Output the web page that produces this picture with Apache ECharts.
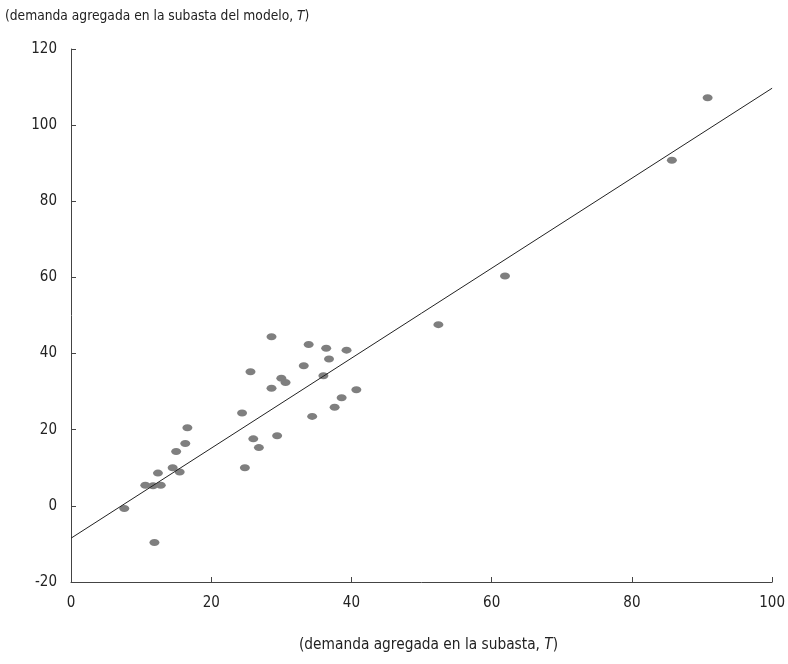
<!DOCTYPE html>
<html>
<head>
<meta charset="utf-8">
<script src="https://cdn.jsdelivr.net/npm/echarts@6/dist/echarts.min.js"></script>
<style>
html,body{margin:0;padding:0;background:#fff;}
#chart{width:788px;height:664px;}
</style>
</head>
<body>
<div id="chart"></div>
<script>
// Observed aggregate demand (x) vs model aggregate demand (y)
const xValues = [28.6, 33.9, 36.4, 39.3, 36.8, 25.6, 33.2, 30.0, 30.6, 28.6, 36.0, 40.7, 38.6, 37.6, 34.4, 24.4, 16.6, 16.3, 15.0, 26.0, 29.4, 26.8, 14.5, 15.5, 12.4, 24.8, 10.6, 11.7, 12.8, 7.6, 11.9, 52.4, 61.9, 85.7, 90.8];
const yValues = [44.4, 42.4, 41.4, 40.9, 38.6, 35.2, 36.8, 33.5, 32.4, 30.9, 34.2, 30.5, 28.4, 25.9, 23.5, 24.4, 20.5, 16.4, 14.3, 17.6, 18.4, 15.3, 10.0, 8.9, 8.6, 10.0, 5.4, 5.3, 5.4, -0.7, -9.6, 47.6, 60.4, 90.8, 107.2];
// Fitted line endpoints
const fitX = [0, 100];
const fitY = [-8.5, 109.7];
const xTicks = [0, 20, 40, 60, 80, 100];
const yTicks = [-20, 0, 20, 40, 60, 80, 100, 120];
const yTitle = "(demanda agregada en la subasta del modelo, ";
const xTitle = "(demanda agregada en la subasta, ";

const FONT = '"Liberation Sans Narrow", "DejaVu Sans Condensed", "Roboto", sans-serif';

const chart = echarts.init(document.getElementById('chart'), null, {renderer: 'canvas'});
const points = xValues.map((x, i) => [x, yValues[i]]);
const fitLine = fitX.map((x, i) => [x, fitY[i]]);

chart.setOption({
  animation: false,
  backgroundColor: '#ffffff',
  grid: {left: 71, right: 14, top: 49, bottom: 82, containLabel: false},
  xAxis: {
    type: 'value', min: xTicks[0], max: xTicks[xTicks.length - 1], interval: 20,
    axisLine: {show: true, onZero: false, lineStyle: {color: '#444', width: 1}},
    axisTick: {show: true, inside: true, length: 5, lineStyle: {color: '#444'}},
    axisLabel: {color: '#222', fontFamily: FONT, fontSize: 15, margin: 14,
      formatter: v => xTicks.includes(v) ? String(v) : ''},
    splitLine: {show: false}
  },
  yAxis: {
    type: 'value', min: yTicks[0], max: yTicks[yTicks.length - 1], interval: 20,
    axisLine: {show: true, onZero: false, lineStyle: {color: '#444', width: 1}},
    axisTick: {show: true, inside: true, length: 5, lineStyle: {color: '#444'}},
    axisLabel: {color: '#222', fontFamily: FONT, fontSize: 15, margin: 14,
      formatter: v => yTicks.includes(v) ? String(v) : ''},
    splitLine: {show: false}
  },
  graphic: [
    {
      type: 'text', left: 5, top: 9,
      style: {
        text: '{a|' + yTitle + '}{i|T}{a|)}',
        rich: {
          a: {fontFamily: FONT, fontSize: 13.7, fill: '#222'},
          i: {fontFamily: FONT, fontSize: 13.7, fontStyle: 'italic', fill: '#222'}
        }
      }
    },
    {
      type: 'text', left: 299, top: 638,
      style: {
        text: '{a|' + xTitle + '}{i|T}{a|)}',
        rich: {
          a: {fontFamily: FONT, fontSize: 15.3, fill: '#222'},
          i: {fontFamily: FONT, fontSize: 15.3, fontStyle: 'italic', fill: '#222'}
        }
      }
    }
  ],
  series: [
    {
      type: 'line', data: fitLine, symbol: 'none', silent: true,
      lineStyle: {color: '#222', width: 1}, z: 3
    },
    {
      type: 'scatter', data: points, symbol: 'circle', symbolSize: [10, 7],
      itemStyle: {color: '#7f7f7f', opacity: 1}, z: 2
    }
  ]
});
</script>
</body>
</html>
